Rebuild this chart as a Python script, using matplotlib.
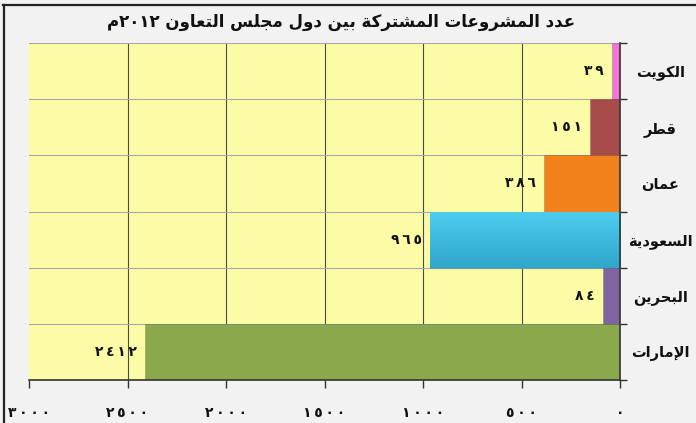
import re
import numpy as np
import matplotlib
matplotlib.use("Agg")
import matplotlib.pyplot as plt
from matplotlib.lines import Line2D
from matplotlib.ticker import FixedLocator

# ---- data ----
title = "عدد المشروعات المشتركة بين دول مجلس التعاون ٢٠١٢م"
countries = ["الكويت", "قطر", "عمان", "السعودية", "البحرين", "الإمارات"]
projects = [39, 151, 386, 965, 84, 2412]
bar_colors = ["#f274da", "#a84b4b", "#f2811c", "#43c4e7", "#8063a1", "#8aa84c"]
x_ticks = [0, 500, 1000, 1500, 2000, 2500, 3000]

# ---- minimal Arabic shaping (presentation forms) + visual ordering ----
FORMS = {  # isolated, final, initial, medial
    'ا': ('\uFE8D', '\uFE8E', None, None),
    'أ': ('\uFE83', '\uFE84', None, None),
    'إ': ('\uFE87', '\uFE88', None, None),
    'آ': ('\uFE81', '\uFE82', None, None),
    'ب': ('\uFE8F', '\uFE90', '\uFE91', '\uFE92'),
    'ة': ('\uFE93', '\uFE94', None, None),
    'ت': ('\uFE95', '\uFE96', '\uFE97', '\uFE98'),
    'ج': ('\uFE9D', '\uFE9E', '\uFE9F', '\uFEA0'),
    'ح': ('\uFEA1', '\uFEA2', '\uFEA3', '\uFEA4'),
    'د': ('\uFEA9', '\uFEAA', None, None),
    'ر': ('\uFEAD', '\uFEAE', None, None),
    'س': ('\uFEB1', '\uFEB2', '\uFEB3', '\uFEB4'),
    'ش': ('\uFEB5', '\uFEB6', '\uFEB7', '\uFEB8'),
    'ط': ('\uFEC1', '\uFEC2', '\uFEC3', '\uFEC4'),
    'ع': ('\uFEC9', '\uFECA', '\uFECB', '\uFECC'),
    'ق': ('\uFED5', '\uFED6', '\uFED7', '\uFED8'),
    'ك': ('\uFED9', '\uFEDA', '\uFEDB', '\uFEDC'),
    'ل': ('\uFEDD', '\uFEDE', '\uFEDF', '\uFEE0'),
    'م': ('\uFEE1', '\uFEE2', '\uFEE3', '\uFEE4'),
    'ن': ('\uFEE5', '\uFEE6', '\uFEE7', '\uFEE8'),
    'و': ('\uFEED', '\uFEEE', None, None),
    'ي': ('\uFEF1', '\uFEF2', '\uFEF3', '\uFEF4'),
}
LAM_ALEF = {'ا': ('\uFEFB', '\uFEFC'), 'إ': ('\uFEF9', '\uFEFA'),
            'أ': ('\uFEF7', '\uFEF8'), 'آ': ('\uFEF5', '\uFEF6')}
AR_DIGITS = str.maketrans('0123456789', '٠١٢٣٤٥٦٧٨٩')


def shape(text):
    units = []
    i = 0
    while i < len(text):
        c = text[i]
        if c == 'ل' and i + 1 < len(text) and text[i + 1] in LAM_ALEF:
            units.append(('LA', text[i + 1]))
            i += 2
        else:
            units.append(('C', c))
            i += 1

    def is_ar(u):
        return u[0] == 'LA' or u[1] in FORMS

    def links_next(u):
        return u[0] == 'C' and u[1] in FORMS and FORMS[u[1]][2] is not None

    out = []
    for k, u in enumerate(units):
        if not is_ar(u):
            out.append(u[1])
            continue
        prev_j = k > 0 and links_next(units[k - 1])
        if u[0] == 'LA':
            out.append(LAM_ALEF[u[1]][1 if prev_j else 0])
            continue
        iso, fin, ini, med = FORMS[u[1]]
        next_j = ini is not None and k + 1 < len(units) and is_ar(units[k + 1])
        if prev_j and next_j:
            out.append(med)
        elif prev_j:
            out.append(fin)
        elif next_j:
            out.append(ini)
        else:
            out.append(iso)
    return ''.join(out)


def rtl(text):
    s = shape(text)
    runs = re.findall(r'[\u0660-\u0669]+|[^\u0660-\u0669]+', s)
    return ''.join(r if '\u0660' <= r[0] <= '\u0669' else r[::-1]
                   for r in reversed(runs))


def ar_num(v):
    # Arabic-Indic digits with a little tracking between them
    return '\u2009'.join(str(v).translate(AR_DIGITS))


plt.rcParams['font.family'] = ['DejaVu Sans']

fig = plt.figure(figsize=(6.96, 4.23), dpi=100, facecolor="#f2f2f2")
ax = fig.add_axes([29 / 696, 1 - 380 / 423, (620 - 29) / 696, (380 - 43) / 423])
ax.set_facecolor("#fdfca6")

n = len(countries)
ypos = np.arange(n)

# grid: vertical value lines and category separators
for xv in x_ticks[1:-1]:
    ax.axvline(xv, color="#4a4a4a", lw=0.8, zorder=1)
for yb in np.arange(n + 1) - 0.5:
    ax.axhline(yb, color="#a8a8a8", lw=0.8, zorder=1)

bars = ax.barh(ypos, projects, height=1.0, color=bar_colors,
               edgecolor="#00000030", linewidth=0.6, zorder=2)

# soft vertical gradient on the blue bar
blue = bars[3]
grad = np.linspace(0, 1, 64).reshape(-1, 1)
cmap = matplotlib.colors.LinearSegmentedColormap.from_list("g", ["#4fcdef", "#2fa6cb"])
img = ax.imshow(grad, cmap=cmap, aspect="auto", zorder=2.1,
                extent=[projects[3], 0, ypos[3] + 0.5, ypos[3] - 0.5],
                interpolation="bicubic")
img.set_clip_path(blue)

for y, v in zip(ypos, projects):
    ax.annotate(ar_num(v), xy=(v, y), xytext=(-6, 0), textcoords="offset points",
                ha="right", va="center", fontsize=10, fontweight="bold",
                color="#111111", zorder=4)

ax.set_xlim(3000, 0)
ax.set_ylim(n - 0.5, -0.5)

ax.set_xticks(x_ticks)
ax.set_xticklabels([ar_num(t) for t in x_ticks], fontsize=10, fontweight="bold")
ax.tick_params(axis="x", direction="out", length=6, width=1, color="#333333",
               pad=13, labelcolor="#111111")

ax.yaxis.tick_right()
ax.set_yticks(ypos)
ax.set_yticklabels([rtl(c) for c in countries], fontsize=10.5, fontweight="bold",
                   ha="center")
ax.yaxis.set_minor_locator(FixedLocator(np.arange(n + 1) - 0.5))
ax.tick_params(axis="y", which="major", length=0, pad=29, labelcolor="#111111")
ax.tick_params(axis="y", which="minor", direction="out", length=5, width=1,
               color="#333333", right=True, left=False)

for side in ("top", "left"):
    ax.spines[side].set_visible(False)
for side in ("right", "bottom"):
    ax.spines[side].set_color("#333333")
    ax.spines[side].set_linewidth(1.2)

fig.text(341 / 696, 1 - 22 / 423, rtl(title), ha="center", va="center",
         fontsize=12, fontweight="bold", color="#111111")

# outer frame (top and left edges)
fig.add_artist(Line2D([3 / 696, 1], [1 - 5.5 / 423, 1 - 5.5 / 423],
                      color="#222222", lw=1.6, transform=fig.transFigure))
fig.add_artist(Line2D([3.5 / 696, 3.5 / 696], [0, 1 - 5.5 / 423],
                      color="#222222", lw=1.6, transform=fig.transFigure))

fig.savefig("out.png", dpi=100, facecolor=fig.get_facecolor())
